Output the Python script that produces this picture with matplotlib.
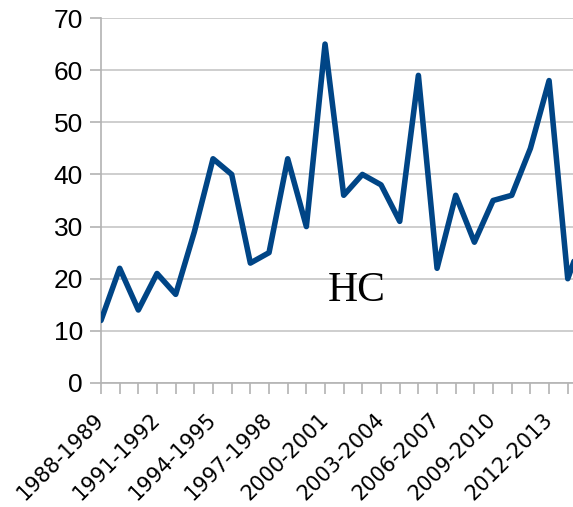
import matplotlib
matplotlib.use("Agg")
import matplotlib.pyplot as plt
import numpy as np

# seasons 1988-1989 ... 2014-2015 (last one runs off the right edge)
start_years = list(range(1988, 2015))
seasons = [f"{y}-{y + 1}" for y in start_years]
hc_values = [12, 22, 14, 21, 17, 29, 43, 40, 23, 25, 43, 30, 65, 36, 40,
             38, 31, 59, 22, 36, 27, 35, 36, 45, 58, 20, 30]
label_every = 3

grid_color = "#c6c6c6"
axis_color = "#b3b3b3"
line_color = "#004586"

fig = plt.figure(figsize=(5.73, 5.07), dpi=100)
ax = fig.add_axes([101 / 573, 1 - 383 / 507, 1 - 101 / 573, 365 / 507])

x = np.arange(len(seasons))
ax.plot(x, hc_values, color=line_color, lw=4, solid_joinstyle="round",
        solid_capstyle="round", zorder=3)

ax.set_ylim(0, 70)
ax.set_yticks(range(0, 71, 10))
ax.set_xlim(0, (573 - 101) / 18.67)
ax.set_xticks(x[:26])
ax.set_xticklabels([s if i % label_every == 0 else "" for i, s in enumerate(seasons[:26])],
                   rotation=45, rotation_mode="anchor", ha="right", va="center",
                   fontsize=15, family="DejaVu Sans")
for lbl in ax.get_yticklabels():
    lbl.set_family("Liberation Sans")
    lbl.set_fontsize(19)

ax.grid(axis="y", color=grid_color, lw=1.2, zorder=0)
ax.tick_params(axis="both", length=8, width=1.2, color=axis_color)
ax.tick_params(axis="y", pad=5)
ax.tick_params(axis="x", pad=16)
for side in ["top", "right"]:
    ax.spines[side].set_visible(False)
for side in ["left", "bottom"]:
    ax.spines[side].set_color(axis_color)
    ax.spines[side].set_linewidth(1.2)

ax.text(13.7, 17.6, "HC", family="Liberation Serif", fontsize=30,
        ha="center", va="center")

fig.savefig("out.png", dpi=100)
